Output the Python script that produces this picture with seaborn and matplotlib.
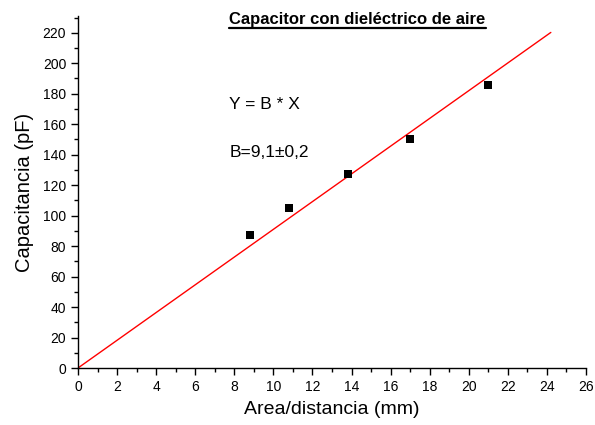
import numpy as np
import pandas as pd
import matplotlib
matplotlib.use("Agg")
import matplotlib.pyplot as plt
import seaborn as sns
from matplotlib.ticker import MultipleLocator
from matplotlib.lines import Line2D

# Data
area_dist = [8.8, 10.8, 13.8, 17.0, 21.0]
capacitance = [87, 105, 127, 150, 186]
slope_B = 9.1
fit_x = [0.0, 24.2]
fit_y = [slope_B * v for v in fit_x]

title_text = "Capacitor con dieléctrico de aire"
eq_text = "Y = B * X"
b_text = "B=9,1±0,2"

sns.set_theme(style="ticks")
plt.rcParams['font.family'] = ['Liberation Sans', 'DejaVu Sans']
plt.rcParams['text.color'] = 'black'
plt.rcParams['axes.labelcolor'] = 'black'
plt.rcParams['xtick.color'] = 'black'
plt.rcParams['ytick.color'] = 'black'

fig = plt.figure(figsize=(5.95, 4.25), dpi=100)
ax = fig.add_axes([78/595, 1 - 368/425, (586 - 78)/595, (368 - 16)/425])

df = pd.DataFrame({"x": area_dist, "y": capacitance})
fit_df = pd.DataFrame({"x": fit_x, "y": fit_y})
sns.lineplot(data=fit_df, x="x", y="y", ax=ax, color="red", linewidth=1.0)
sns.scatterplot(data=df, x="x", y="y", ax=ax, marker="s", color="black",
                s=32, edgecolor="black", linewidth=0, zorder=3)

ax.set_xlim(0, 26)
ax.set_ylim(0, 231)
ax.xaxis.set_major_locator(MultipleLocator(2))
ax.xaxis.set_minor_locator(MultipleLocator(1))
ax.yaxis.set_major_locator(MultipleLocator(20))
ax.yaxis.set_minor_locator(MultipleLocator(10))
ax.tick_params(which="major", direction="out", length=5, width=1, labelsize=10,
               colors="black", labelcolor="black")
ax.tick_params(which="minor", direction="out", length=3, width=1, colors="black")
for s in ["top", "right"]:
    ax.spines[s].set_visible(False)
for s in ["left", "bottom"]:
    ax.spines[s].set_linewidth(1)
    ax.spines[s].set_color("black")

ax.set_xlabel("Area/distancia (mm)", fontsize=14, labelpad=5, color="black")
ax.set_ylabel("Capacitancia (pF)", fontsize=14.5, labelpad=6, color="black")

t = ax.text(14.3, 228.5, title_text, ha="center", va="center",
            fontsize=12, fontweight="bold", color="black")
ax.text(9.55, 173, eq_text, ha="center", va="center", fontsize=12.5, color="black")
ax.text(9.8, 141.5, b_text, ha="center", va="center", fontsize=12.5, color="black")

fig.canvas.draw()
bb = t.get_window_extent(renderer=fig.canvas.get_renderer())
fw, fh = fig.bbox.width, fig.bbox.height
y_ul = (bb.y0 - 1.0) / fh
fig.add_artist(Line2D([bb.x0 / fw, bb.x1 / fw], [y_ul, y_ul], color="black", linewidth=1.6))

fig.savefig("out.png", dpi=100)
